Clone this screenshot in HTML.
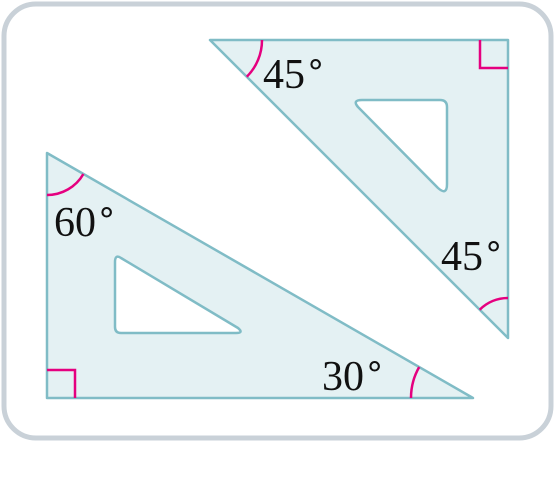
<!DOCTYPE html>
<html><head><meta charset="utf-8"><style>
html,body{margin:0;padding:0;background:#fff;}
svg{display:block}
text{font-family:"Liberation Serif",serif;font-size:42px;fill:#111}
tspan.d{font-size:34px}
</style></head><body>
<svg width="556" height="480" viewBox="0 0 556 480">
<rect x="4" y="4" width="547" height="434" rx="32" fill="#fff" stroke="#c9d1d8" stroke-width="5"/>
<g>
<path fill-rule="evenodd" d="M47,153 L47,398 L473,398 Z M121,258 Q115,254 115,262 L115,327 Q115,333 121,333 L236,333 Q244,333 238,328 Z" fill="#e4f1f3" stroke="#80bcc6" stroke-width="2.5" stroke-linejoin="round"/>
</g>
<g>
<path fill-rule="evenodd" d="M210,40 L508,40 L508,338 Z M362,100 Q352,100 358,107 L438,188 Q447,196 447,184 L447,107 Q447,100 440,100 Z" fill="#e4f1f3" stroke="#80bcc6" stroke-width="2.5" stroke-linejoin="round"/>
</g>
<g fill="none" stroke="#e5007f" stroke-width="2.5">
<path d="M47,370 L75,370 L75,398"/>
<path d="M480,40 L480,68 L508,68"/>
<path d="M47,195 A42,42 0 0 0 83.4,174"/>
<path d="M411,398 A62,62 0 0 1 419.2,367"/>
<path d="M262,40 A52,52 0 0 1 246.8,76.8"/>
<path d="M508,298 A40,40 0 0 0 479.7,309.7"/>
</g>
<text x="263" y="88">45<tspan class="d" dx="0" dy="-13">∘</tspan></text>
<text x="54" y="236">60<tspan class="d" dx="0" dy="-13">∘</tspan></text>
<text x="441" y="270">45<tspan class="d" dx="0" dy="-13">∘</tspan></text>
<text x="322" y="390">30<tspan class="d" dx="0" dy="-13">∘</tspan></text>
</svg>
</body></html>
